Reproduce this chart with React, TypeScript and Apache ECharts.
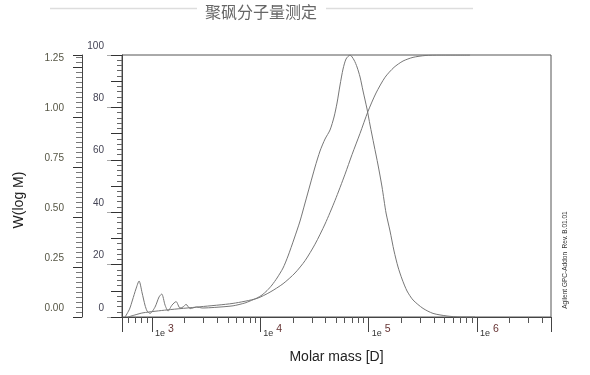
import React, { useEffect, useRef } from "react";
import * as echarts from "echarts";

// Differential distribution W(log M) vs molar mass
const wMass = [564, 620, 660, 710, 759, 810, 860, 900, 958, 1066, 1160, 1229, 1318, 1405, 1530, 1667, 1812, 1933, 2060, 2250, 2587, 2900, 3800, 5600, 7200, 8028, 9317, 10361, 11525, 12815, 14252, 16196, 18008, 20459, 23242, 25848, 28739, 31969, 35547, 39537, 43963, 47873, 51034, 54393, 57970, 61786, 67276, 73223, 78050, 83222, 88685, 96540, 102900, 112000, 122000, 132800, 144600, 157400, 171400, 186600, 203100, 225900, 256700, 317400, 392600, 528700, 697000, 958800];
const wValues = [0.0, 0.04, 0.085, 0.14, 0.18, 0.12, 0.06, 0.03, 0.018, 0.05, 0.1, 0.115, 0.06, 0.03, 0.06, 0.077, 0.045, 0.05, 0.063, 0.042, 0.05, 0.045, 0.048, 0.056, 0.07, 0.08, 0.095, 0.11, 0.132, 0.16, 0.195, 0.245, 0.305, 0.39, 0.48, 0.57, 0.66, 0.75, 0.83, 0.89, 0.935, 1.0, 1.07, 1.16, 1.24, 1.29, 1.31, 1.285, 1.25, 1.2, 1.13, 1.04, 0.96, 0.86, 0.76, 0.65, 0.52, 0.43, 0.33, 0.25, 0.19, 0.13, 0.085, 0.043, 0.018, 0.005, 0.0, 0.0];

// Cumulative distribution (%) vs molar mass
const cumMass = [600, 697, 826, 1375, 2773, 5597, 9317, 12285, 16196, 20893, 25848, 31969, 39537, 48900, 60480, 70190, 83222, 98600, 116900, 141600, 171400, 207500, 256700, 331300, 455400, 862000];
const cumValues = [0, 0.8, 1.6, 2.7, 3.9, 5.2, 7.1, 9.5, 12.7, 16.8, 21.5, 27.8, 35.5, 44.5, 54.5, 62.0, 70.1, 78.5, 85.5, 91.5, 95.3, 97.7, 99.1, 99.8, 100, 100];

const titleText = "聚砜分子量测定";
const xName = "Molar mass [D]";
const yName = "W(log M)";
const footnote = "Agilent GPC-Addon  Rev. B.01.01";

export default function App() {
  const ref = useRef<HTMLDivElement>(null);
  useEffect(() => {
    const chart = echarts.init(ref.current!, null, { renderer: "svg" });
    const font = "Liberation Sans";
    chart.setOption({
      animation: false,
      grid: { left: 122, right: 39, top: 55, bottom: 58, show: true, borderColor: "#555", borderWidth: 1 },
      xAxis: {
        type: "log",
        logBase: 10,
        min: 528,
        max: 4820000,
        name: xName,
        nameLocation: "middle",
        nameGap: 32,
        nameTextStyle: { fontSize: 14, color: "#222", fontFamily: font },
        axisLine: { lineStyle: { color: "#444", width: 1 } },
        axisTick: { length: 15, lineStyle: { color: "#444" } },
        minorTick: { show: true, splitNumber: 9, length: 6, lineStyle: { color: "#555" } },
        splitLine: { show: false },
        minorSplitLine: { show: false },
        axisLabel: {
          margin: 5,
          align: "left",
          showMinLabel: false,
          showMaxLabel: false,
          formatter: (v: number) => {
            const e = Math.log10(v);
            if (Math.abs(e - Math.round(e)) < 1e-6) return `{a|1e}{b|${Math.round(e)}}`;
            return "";
          },
          rich: {
            a: { fontSize: 9, color: "#333", fontFamily: font, padding: [6, 0, 0, 3] },
            b: { fontSize: 10.5, color: "#633", fontFamily: font, padding: [0, 0, 4, 3] },
          },
        },
      },
      yAxis: [
        {
          type: "value",
          position: "left",
          min: 0,
          max: 100,
          interval: 20,
          axisLine: { show: true, lineStyle: { color: "#444" } },
          axisTick: { show: true, length: 15, lineStyle: { color: "#aaa" } },
          minorTick: { show: true, splitNumber: 10, length: 5, lineStyle: { color: "#666" } },
          splitLine: { show: false },
          axisLabel: {
            margin: 18,
            fontSize: 10,
            color: "#445",
            fontFamily: font,
            verticalAlign: "bottom",
            lineHeight: 12,
            padding: [0, 0, 4, 0],
          },
        },
        {
          type: "value",
          position: "left",
          offset: 40,
          min: 0,
          max: 1.31,
          interval: 0.25,
          axisLine: { show: true, lineStyle: { color: "#444" } },
          axisTick: { show: true, length: 9, lineStyle: { color: "#333" } },
          minorTick: { show: true, splitNumber: 10, length: 6, lineStyle: { color: "#777" } },
          splitLine: { show: false },
          axisLabel: {
            margin: 18,
            fontSize: 10,
            color: "#554",
            fontFamily: font,
            showMaxLabel: false,
            formatter: (v: number) => v.toFixed(2),
            verticalAlign: "bottom",
            lineHeight: 12,
            padding: [0, 0, 4, 0],
          },
        },
        {
          type: "value",
          position: "left",
          min: 0,
          max: 100,
          interval: 10,
          axisLine: { show: false },
          axisTick: { show: true, length: 11, lineStyle: { color: "#333" } },
          axisLabel: { show: false },
          splitLine: { show: false },
        },
      ],
      series: [
        {
          type: "line",
          yAxisIndex: 1,
          data: wMass.map((m, i) => [m, wValues[i]]),
          showSymbol: false,
          smooth: 0.25,
          lineStyle: { color: "#777", width: 1 },
        },
        {
          type: "line",
          yAxisIndex: 0,
          data: cumMass.map((m, i) => [m, cumValues[i]]),
          showSymbol: false,
          smooth: 0.25,
          lineStyle: { color: "#777", width: 1 },
        },
      ],
      graphic: [
        { type: "line", shape: { x1: 50, y1: 8.5, x2: 197, y2: 8.5 }, style: { stroke: "#ddd", lineWidth: 1.5 } },
        { type: "line", shape: { x1: 326, y1: 8.5, x2: 473, y2: 8.5 }, style: { stroke: "#ddd", lineWidth: 1.5 } },
        {
          type: "text",
          x: 261,
          y: 11,
          style: { text: titleText, fontSize: 16, fill: "#666", fontFamily: "Noto Sans CJK SC", align: "center", verticalAlign: "middle" },
        },
        {
          type: "text",
          x: 18,
          y: 200,
          rotation: Math.PI / 2,
          style: { text: yName, fontSize: 14, fill: "#222", fontFamily: font, align: "center", verticalAlign: "middle" },
        },
        {
          type: "text",
          x: 564,
          y: 260,
          rotation: Math.PI / 2,
          style: { text: footnote, fontSize: 6.5, fill: "#333", fontFamily: font, align: "center", verticalAlign: "middle" },
        },
      ],
    });
    return () => chart.dispose();
  }, []);
  return <div ref={ref} style={{ position: "fixed", left: 0, top: 0, width: 590, height: 375 }} />;
}
